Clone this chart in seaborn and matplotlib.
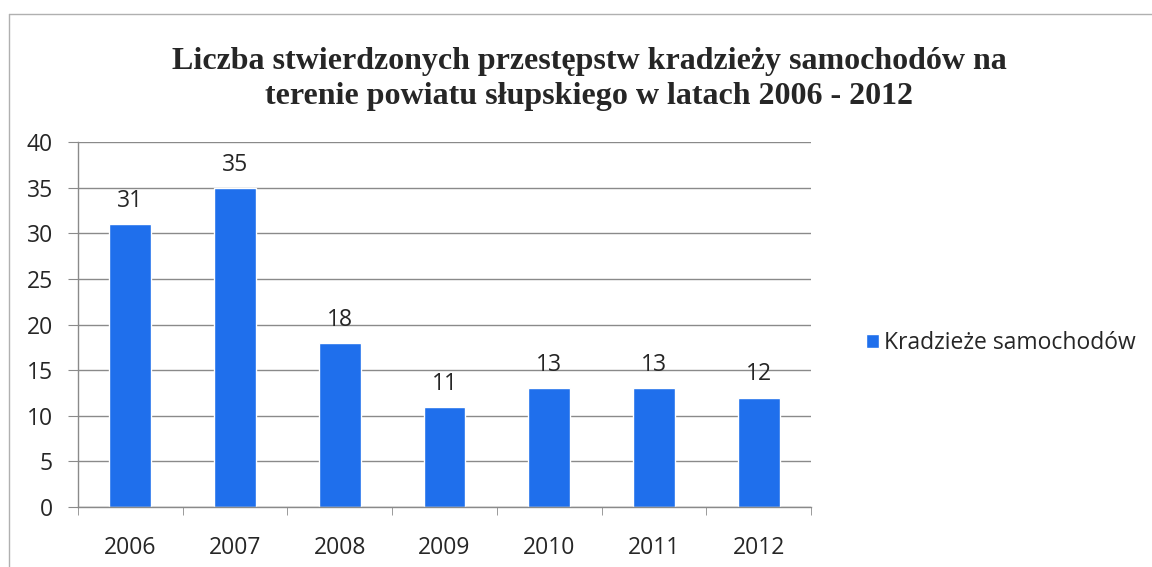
import matplotlib
matplotlib.use("Agg")
import matplotlib.pyplot as plt
import seaborn as sns
import pandas as pd
from matplotlib.lines import Line2D

years = ["2006", "2007", "2008", "2009", "2010", "2011", "2012"]
values = [31, 35, 18, 11, 13, 13, 12]
series_name = "Kradzieże samochodów"
title = ("Liczba stwierdzonych przestępstw kradzieży samochodów na\n"
         "terenie powiatu słupskiego w latach 2006 - 2012")

sns.set_style("white")
plt.rcParams['font.family'] = ['Open Sans', 'DejaVu Sans']

df = pd.DataFrame({"rok": years, "liczba": values, "seria": [series_name] * len(years)})

fig = plt.figure(figsize=(11.52, 5.67), dpi=100)
ax = fig.add_axes([78/1152, 1 - 507/567, (811 - 78)/1152, (507 - 142)/567])

bar_color = "#1f6fec"
sns.barplot(data=df, x="rok", y="liczba", hue="seria", palette=[bar_color],
            width=0.40, ax=ax, saturation=1, legend=True)

ax.set_ylim(0, 40)
ax.set_xlim(-0.5, len(years) - 0.5)
ax.set_yticks(range(0, 41, 5))
ax.set_xlabel("")
ax.set_ylabel("")

grid_c = "#8a8a8a"
ax.yaxis.grid(True, color=grid_c, linewidth=1.0)
ax.set_axisbelow(True)
for s in ["top", "right"]:
    ax.spines[s].set_visible(False)
for s in ["left", "bottom"]:
    ax.spines[s].set_color(grid_c)
    ax.spines[s].set_linewidth(1.0)

ax.tick_params(axis="y", length=7, color=grid_c, labelsize=16.5, pad=11, left=True)
ax.tick_params(axis="x", which="major", length=0, labelsize=16.5, pad=21)
ax.set_xticks([i - 0.5 for i in range(len(years) + 1)], minor=True)
ax.tick_params(axis="x", which="minor", length=6, color=grid_c, bottom=True)

for i, v in enumerate(values):
    ax.annotate(str(v), (i, v), xytext=(0, 8), textcoords="offset points",
                ha="center", va="bottom", fontsize=16.5)

leg = ax.legend(loc="center left", bbox_to_anchor=(845/1152, 1 - 343/567),
                bbox_transform=fig.transFigure, frameon=False, fontsize=16.5,
                handlelength=0.6, handleheight=0.6, handletextpad=0.2)

fig.text(589/1152, 1 - 79/567, title, ha="center", va="center",
         fontsize=23, fontweight="bold", family=["Liberation Serif", "DejaVu Serif"],
         linespacing=1.25)

border_c = "#b0b0b0"
fig.lines.append(Line2D([9/1152, 9/1152], [0, 1 - 14/567], transform=fig.transFigure,
                        color=border_c, linewidth=1.0))
fig.lines.append(Line2D([9/1152, 1], [1 - 14/567, 1 - 14/567], transform=fig.transFigure,
                        color=border_c, linewidth=1.0))

fig.savefig("out.png", dpi=100)
